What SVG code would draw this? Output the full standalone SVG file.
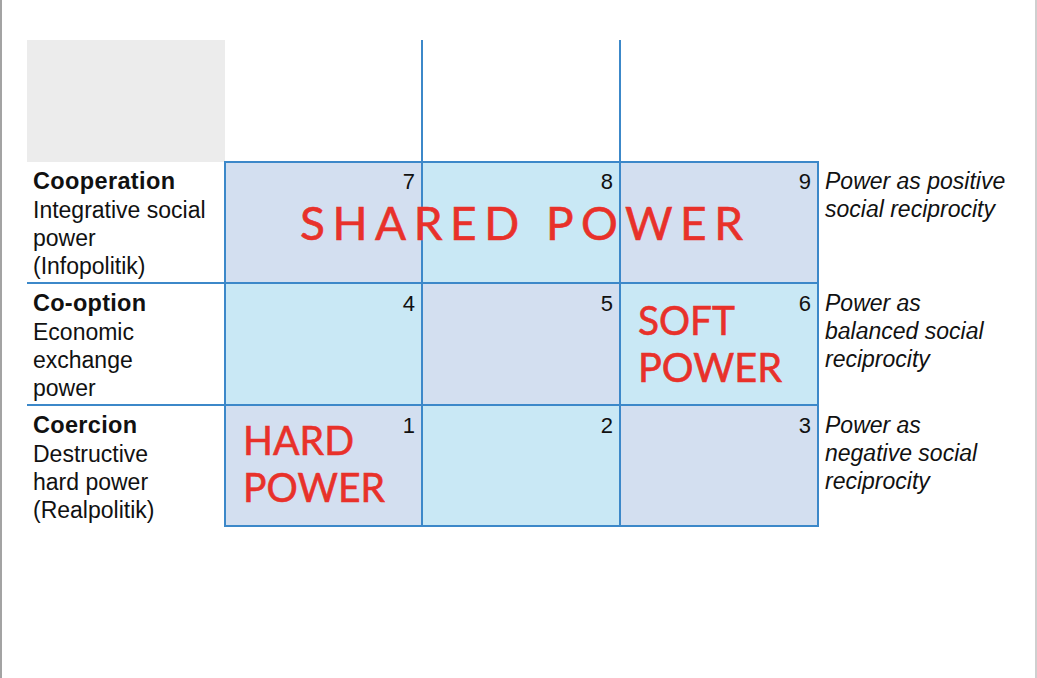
<svg xmlns="http://www.w3.org/2000/svg" width="1037" height="678" viewBox="0 0 1037 678">
<style>
.lav{fill:#d3dff0}
.cya{fill:#c9e8f5}
.ln{stroke:#3c88c9;stroke-width:2;fill:none}
.t{font-family:"Liberation Sans",Arial,sans-serif;font-size:23px;fill:#111}
.b{font-weight:bold;font-size:23.5px}
.i{font-style:italic}
.n{font-family:"Liberation Sans",Arial,sans-serif;font-size:22px;fill:#111;text-anchor:end}
.p{font-family:Lato,"Open Sans",sans-serif;fill:#e8312a;stroke:#e8312a;stroke-width:0.6}
</style>
<rect width="1037" height="678" fill="#fff"/>
<rect x="0" y="0" width="2" height="678" fill="#a3a3a3"/>
<rect x="1035" y="0" width="2" height="678" fill="#cfcfcf"/>
<rect id="corner" x="27" y="40" width="198" height="122" fill="#ececec"/>

<g id="cells">
<g id="cell7"><rect class="lav" x="225" y="162" width="197" height="121"/><text class="n" x="415" y="189">7</text></g>
<g id="cell8"><rect class="cya" x="422" y="162" width="198" height="121"/><text class="n" x="613" y="189">8</text></g>
<g id="cell9"><rect class="lav" x="620" y="162" width="198" height="121"/><text class="n" x="811" y="189">9</text></g>
<g id="cell4"><rect class="cya" x="225" y="283" width="197" height="122"/><text class="n" x="415" y="311">4</text></g>
<g id="cell5"><rect class="lav" x="422" y="283" width="198" height="122"/><text class="n" x="613" y="311">5</text></g>
<g id="cell6"><rect class="cya" x="620" y="283" width="198" height="122"/><text class="n" x="811" y="311">6</text></g>
<g id="cell1"><rect class="lav" x="225" y="405" width="197" height="121"/><text class="n" x="415" y="433">1</text></g>
<g id="cell2"><rect class="cya" x="422" y="405" width="198" height="121"/><text class="n" x="613" y="433">2</text></g>
<g id="cell3"><rect class="lav" x="620" y="405" width="198" height="121"/><text class="n" x="811" y="433">3</text></g>
</g>

<g id="connectors">
<line class="ln" x1="422" y1="40" x2="422" y2="526"/>
<line class="ln" x1="620" y1="40" x2="620" y2="526"/>
<line class="ln" x1="27" y1="283" x2="818" y2="283"/>
<line class="ln" x1="27" y1="405" x2="818" y2="405"/>
<rect class="ln" x="225" y="162" width="593" height="364"/>
</g>

<g id="row-cooperation">
<text class="t b" x="33" y="189" textLength="142">Cooperation</text>
<text class="t" x="33" y="218">Integrative social</text>
<text class="t" x="33" y="246">power</text>
<text class="t" x="33" y="274">(Infopolitik)</text>
</g>
<g id="row-cooption">
<text class="t b" x="33" y="311" textLength="113">Co-option</text>
<text class="t" x="33" y="340">Economic</text>
<text class="t" x="33" y="368">exchange</text>
<text class="t" x="33" y="396">power</text>
</g>
<g id="row-coercion">
<text class="t b" x="33" y="433" textLength="104">Coercion</text>
<text class="t" x="33" y="462">Destructive</text>
<text class="t" x="33" y="490">hard power</text>
<text class="t" x="33" y="518">(Realpolitik)</text>
</g>

<g id="desc-positive">
<text class="t i" x="825" y="189">Power as positive</text>
<text class="t i" x="825" y="217">social reciprocity</text>
</g>
<g id="desc-balanced">
<text class="t i" x="825" y="311">Power as</text>
<text class="t i" x="825" y="339">balanced social</text>
<text class="t i" x="825" y="367">reciprocity</text>
</g>
<g id="desc-negative">
<text class="t i" x="825" y="433">Power as</text>
<text class="t i" x="825" y="461">negative social</text>
<text class="t i" x="825" y="489">reciprocity</text>
</g>

<g id="shared-power">
<text class="p" x="300" y="240" font-size="46" textLength="443" lengthAdjust="spacing">SHARED POWER</text>
</g>
<g id="soft-power">
<text class="p" x="638" y="335" font-size="40" textLength="97" lengthAdjust="spacingAndGlyphs">SOFT</text>
<text class="p" x="638" y="382" font-size="40" textLength="144" lengthAdjust="spacingAndGlyphs">POWER</text>
</g>
<g id="hard-power">
<text class="p" x="243" y="455" font-size="40" textLength="111" lengthAdjust="spacingAndGlyphs">HARD</text>
<text class="p" x="243" y="502" font-size="40" textLength="142" lengthAdjust="spacingAndGlyphs">POWER</text>
</g>
</svg>
